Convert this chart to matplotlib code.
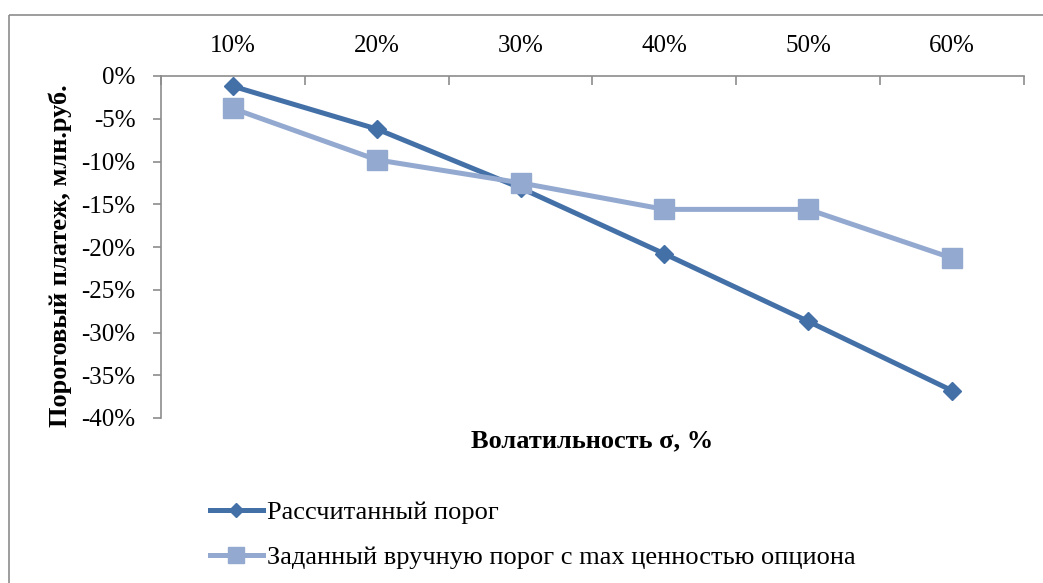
import matplotlib
matplotlib.use("Agg")
import matplotlib.pyplot as plt
from matplotlib.lines import Line2D
from matplotlib.ticker import FixedLocator, PercentFormatter

categories = ["10%", "20%", "30%", "40%", "50%", "60%"]
calc_threshold = [-1.2, -6.2, -13.1, -20.8, -28.7, -36.8]
manual_threshold = [-3.8, -9.8, -12.5, -15.6, -15.6, -21.3]
series_names = ["Рассчитанный порог", "Заданный вручную порог с max ценностью опциона"]
y_ticks = [0, -5, -10, -15, -20, -25, -30, -35, -40]

plt.rcParams['font.family'] = ['Liberation Serif', 'DejaVu Serif']
plt.rcParams['axes.unicode_minus'] = False

W, H = 1043, 583
fig = plt.figure(figsize=(W / 100, H / 100), dpi=100)
ax = fig.add_axes([161 / W, 1 - 418 / H, (1024 - 161) / W, (418 - 76) / H])

dark = '#4470A8'
light = '#93A9D0'
grey = '#8C8C8C'
fs = 18
fs_big = 19

x = list(range(len(categories)))
ax.plot(x, calc_threshold, color=dark, lw=3.6, marker='D', ms=9.5,
        label=series_names[0], zorder=3)
ax.plot(x, manual_threshold, color=light, lw=3.6, marker='s', ms=14.4,
        label=series_names[1], zorder=4)

ax.set_xlim(-0.5, len(categories) - 0.5)
ax.set_ylim(-40, 0)

# x axis on top
ax.xaxis.tick_top()
ax.xaxis.set_major_locator(FixedLocator([i - 0.5 for i in range(len(categories) + 1)]))
ax.xaxis.set_major_formatter(plt.NullFormatter())
ax.xaxis.set_minor_locator(FixedLocator(x))
ax.set_xticklabels(categories, minor=True)
ax.tick_params(axis='x', which='major', direction='in', length=6.5, color=grey, width=1.2, top=True, bottom=False)
ax.tick_params(axis='x', which='minor', length=0, pad=14, labelsize=fs, top=True, bottom=False,
               labeltop=True, labelbottom=False)

ax.set_yticks(y_ticks)
ax.yaxis.set_major_formatter(PercentFormatter(decimals=0))
ax.tick_params(axis='y', direction='out', length=5.5, color=grey, width=1.2, pad=13, labelsize=fs)

for s in ['bottom', 'right']:
    ax.spines[s].set_visible(False)
for s in ['top', 'left']:
    ax.spines[s].set_color(grey)
    ax.spines[s].set_linewidth(1.2)

fig.text(592 / W, 1 - 441 / H, "Волатильность σ, %", ha='center', va='center',
         fontsize=fs_big, fontweight='bold')
fig.text(60 / W, 1 - 256 / H, "Пороговый платеж, млн.руб.", ha='center', va='center',
         rotation=90, fontsize=fs_big, fontweight='bold')

fig.legend(loc='upper left', bbox_to_anchor=(210 / W, 1 - 501 / H), frameon=False,
           fontsize=fs_big, borderpad=0, borderaxespad=0, handlelength=2.0,
           handletextpad=0.15, labelspacing=0.8, markerscale=0.8)

# outer chart-area frame (left and top edges visible)
fig.add_artist(Line2D([8.5 / W, 8.5 / W], [0, 1 - 14.5 / H], transform=fig.transFigure,
                      color=grey, lw=1.2, solid_capstyle='butt'))
fig.add_artist(Line2D([8.5 / W, 1.0], [1 - 14.5 / H, 1 - 14.5 / H], transform=fig.transFigure,
                      color=grey, lw=1.2, solid_capstyle='butt'))

fig.savefig("out.png", dpi=100, facecolor='white')
